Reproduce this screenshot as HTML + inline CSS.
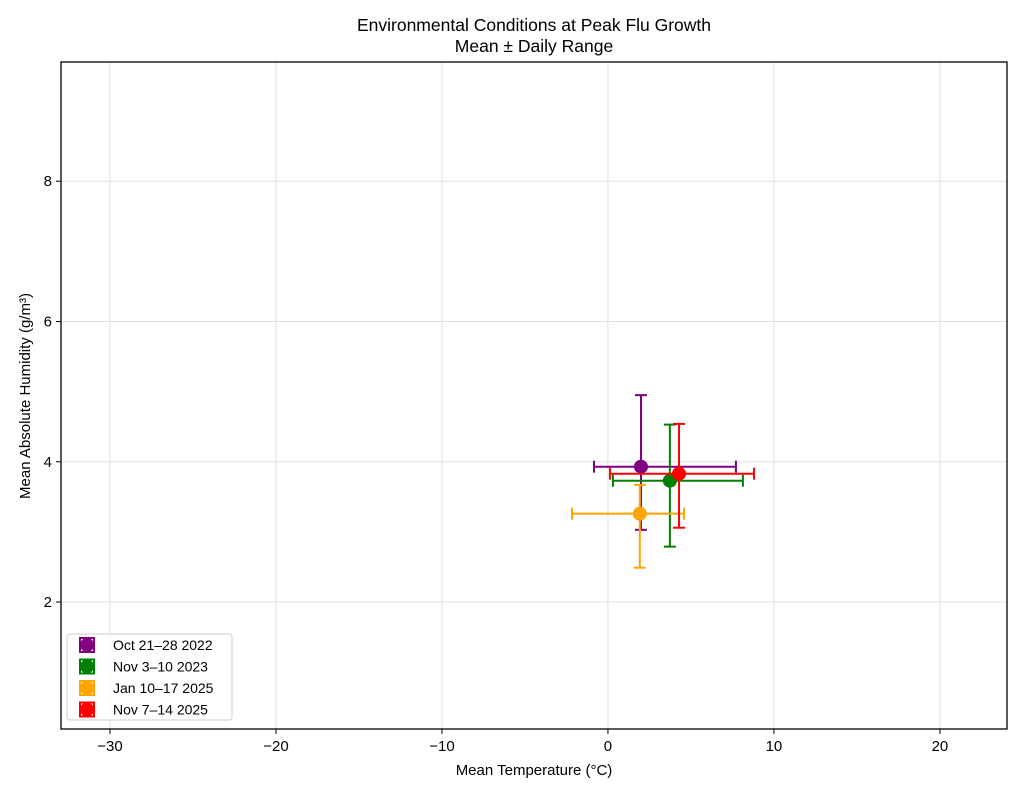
<!DOCTYPE html>
<html><head><meta charset="utf-8"><style>
body{margin:0;background:#fff;}
svg{display:block;font-family:"Liberation Sans","DejaVu Sans",sans-serif;}
</style></head><body>
<svg id="chart" width="1024" height="794" xmlns="http://www.w3.org/2000/svg">
<rect width="1024" height="794" fill="#fff"/>
<g id="grid"></g>
<g id="marks"></g>
<rect x="61" y="62" width="946" height="667" fill="none" stroke="#000" stroke-width="1.3"/>
<g id="ticks"></g>
<text x="534" y="31" text-anchor="middle" font-size="17.5">Environmental Conditions at Peak Flu Growth</text>
<text x="534" y="52" text-anchor="middle" font-size="17.5">Mean ± Daily Range</text>
<text x="534" y="775" text-anchor="middle" font-size="15">Mean Temperature (°C)</text>
<text transform="translate(30,396) rotate(-90)" text-anchor="middle" font-size="15">Mean Absolute Humidity (g/m³)</text>
<g id="legend"></g>
</svg>
<script>
const labels = ["Oct 21–28 2022","Nov 3–10 2023","Jan 10–17 2025","Nov 7–14 2025"];
const colors = ["purple","green","orange","red"];
const meanT = [1.99, 3.73, 1.92, 4.28];
const meanH = [3.93, 3.73, 3.26, 3.83];
const tMin = [-0.84, 0.3, -2.17, 0.12];
const tMax = [7.71, 8.13, 4.58, 8.8];
const hMin = [3.03, 2.79, 2.49, 3.06];
const hMax = [4.95, 4.53, 3.67, 4.54];
const xTicks = [-30,-20,-10,0,10,20];
const yTicks = [2,4,6,8];

const NS="http://www.w3.org/2000/svg";
const X0=61,X1=1007,Y0=729,Y1=62, xmin=-32.95,xmax=24.04,ymin=0.19,ymax=9.7;
const sx=v=>X0+(v-xmin)/(xmax-xmin)*(X1-X0);
const sy=v=>Y0-(v-ymin)/(ymax-ymin)*(Y0-Y1);
function mk(tag,attrs,parent){const e=document.createElementNS(NS,tag);for(const k in attrs)e.setAttribute(k,attrs[k]);parent.appendChild(e);return e;}
const grid=document.getElementById('grid'),ticks=document.getElementById('ticks'),marks=document.getElementById('marks'),legend=document.getElementById('legend');
xTicks.forEach(t=>{const x=sx(t);
 const g=mk('line',{x1:x,x2:x,y1:Y1,y2:Y0,stroke:'#e0e0e0','stroke-width':1},grid);
 
 mk('line',{x1:x,x2:x,y1:Y0,y2:Y0+5,stroke:'#000'},ticks);
 const tx=mk('text',{x:x,y:Y0+22,'text-anchor':'middle','font-size':15},ticks);
 tx.textContent=(t<0?'\u2212'+(-t):''+t);
 });
yTicks.forEach(t=>{const y=sy(t);
 const g=mk('line',{x1:X0,x2:X1,y1:y,y2:y,stroke:'#e0e0e0','stroke-width':1},grid);
 
 mk('line',{x1:X0-5,x2:X0,y1:y,y2:y,stroke:'#000'},ticks);
 const tx=mk('text',{x:X0-9,y:y+5,'text-anchor':'end','font-size':15},ticks);
 tx.textContent=t;
 });
labels.forEach((l,i)=>{const c=colors[i];
 const g=mk('g',{stroke:c,'stroke-width':2},marks);
 
 const cx=sx(meanT[i]),cy=sy(meanH[i]);
 mk('line',{x1:sx(tMin[i]),x2:sx(tMax[i]),y1:cy,y2:cy},g);
 mk('line',{x1:sx(tMin[i]),x2:sx(tMin[i]),y1:cy-6,y2:cy+6},g);
 mk('line',{x1:sx(tMax[i]),x2:sx(tMax[i]),y1:cy-6,y2:cy+6},g);
 mk('line',{x1:cx,x2:cx,y1:sy(hMin[i]),y2:sy(hMax[i])},g);
 mk('line',{x1:cx-6,x2:cx+6,y1:sy(hMin[i]),y2:sy(hMin[i])},g);
 mk('line',{x1:cx-6,x2:cx+6,y1:sy(hMax[i]),y2:sy(hMax[i])},g);
 const p=mk('circle',{cx:cx,cy:cy,r:7,fill:c,stroke:'none'},g);
 
});
const lb=mk('rect',{x:67,y:634,width:165,height:86,rx:3,fill:'#fff','fill-opacity':0.8,stroke:'#ccc'},legend);

labels.forEach((l,i)=>{const y=645+i*21.5;
 const g=mk('g',{},legend);
 
 mk('rect',{x:80,y:y-7,width:14,height:14,fill:'none',stroke:colors[i],'stroke-width':2},g);
 mk('circle',{cx:87,cy:y,r:7,fill:colors[i]},g);
 const t=mk('text',{x:113,y:y+5,'font-size':14},g);t.textContent=l;
});
</script>
</body></html>
